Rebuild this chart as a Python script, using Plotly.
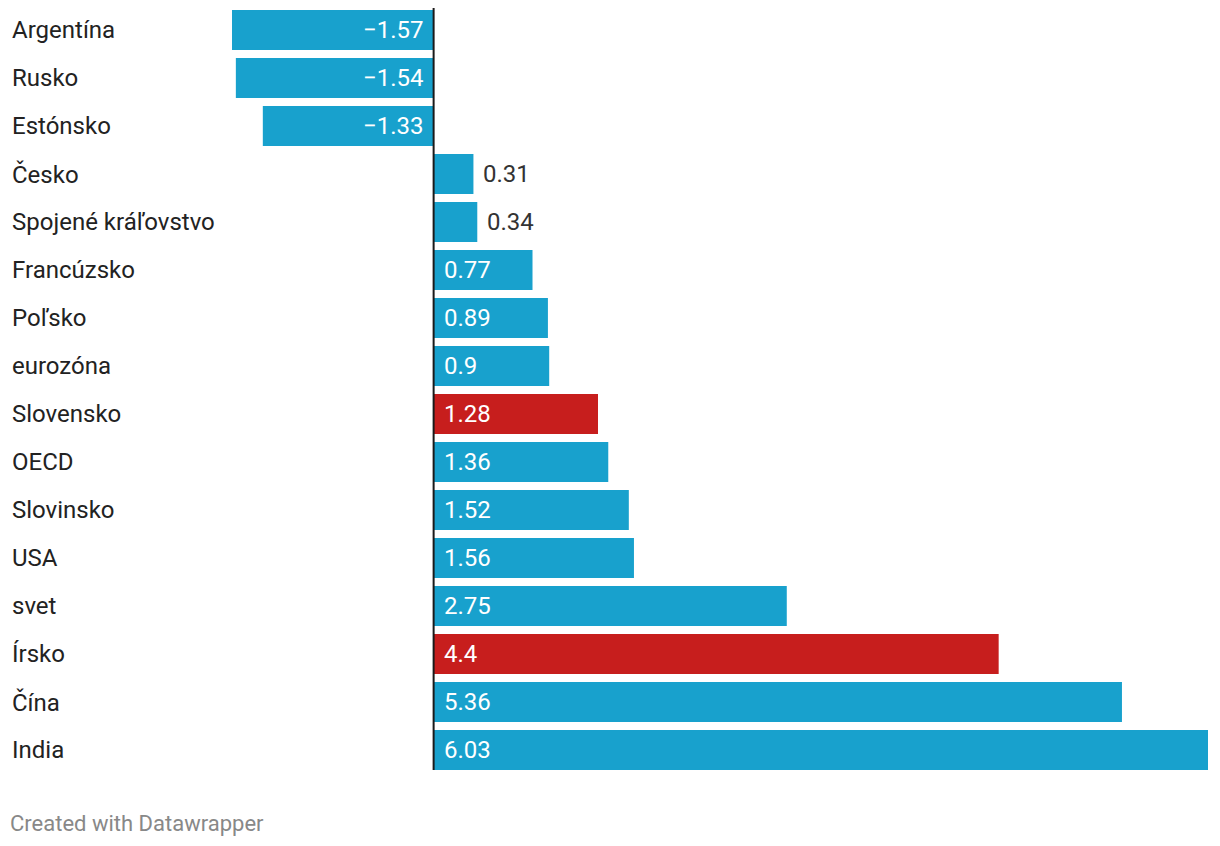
import plotly.graph_objects as go

categories = ["Argentína", "Rusko", "Estónsko", "Česko", "Spojené kráľovstvo",
              "Francúzsko", "Poľsko", "eurozóna", "Slovensko", "OECD", "Slovinsko",
              "USA", "svet", "Írsko", "Čína", "India"]
values = [-1.57, -1.54, -1.33, 0.31, 0.34, 0.77, 0.89, 0.9, 1.28, 1.36, 1.52,
          1.56, 2.75, 4.4, 5.36, 6.03]
highlight = ["Slovensko", "Írsko"]

BLUE = "#18a1cd"
RED = "#c71e1d"
W, H = 1204, 830          # page body adds an 8px offset
ROW = 48
GAP = 8
n = len(categories)
ML, MR, MT = 224, 4, 0
MB = H - MT - n * ROW
FONT = "Roboto"
FS = 24

colors = [RED if c in highlight else BLUE for c in categories]
texts = [(f"{v:g}").replace("-", "\u2212") for v in values]

fig = go.Figure(go.Bar(
    x=values, y=categories, orientation="h",
    marker=dict(color=colors, line=dict(width=0)),
    hoverinfo="skip",
))

plot_w = W - ML - MR
label_x = (2 - ML) / plot_w
for c in categories:
    fig.add_annotation(x=label_x, xref="paper", y=c, yref="y", text=c,
                       showarrow=False, xanchor="left", yanchor="middle",
                       font=dict(family=FONT, size=FS, color="#222222"))

for c, v, t in zip(categories, values, texts):
    if v < 0:
        fig.add_annotation(x=0, y=c, text=t, showarrow=False, xanchor="right",
                           xshift=-8, yanchor="middle",
                           font=dict(family=FONT, size=FS, color="white"))
    elif v < 0.5:
        fig.add_annotation(x=v, y=c, text=t, showarrow=False, xanchor="left",
                           xshift=8, yanchor="middle",
                           font=dict(family=FONT, size=FS, color="#333333"))
    else:
        fig.add_annotation(x=0, y=c, text=t, showarrow=False, xanchor="left",
                           xshift=8, yanchor="middle",
                           font=dict(family=FONT, size=FS, color="white"))

fig.add_annotation(x=(0 - ML) / plot_w, xref="paper", y=-(815 - (H - MB)) / (H - MT - MB),
                   yref="paper", text="Created with Datawrapper", showarrow=False,
                   xanchor="left", yanchor="middle",
                   font=dict(family=FONT, size=22, color="#888888"))

half_bar = (1 - GAP / ROW) / 2
fig.add_shape(type="line", xref="x", yref="y", x0=0, x1=0,
              y0=-half_bar - 2 / ROW, y1=n - 1 + half_bar,
              line=dict(color="#1a1a1a", width=2), layer="above")

shift = 2 / ROW
fig.update_layout(
    width=W, height=H, margin=dict(l=ML, r=MR, t=MT, b=MB, pad=0),
    plot_bgcolor="white", paper_bgcolor="white",
    bargap=GAP / ROW, showlegend=False,
    xaxis=dict(range=[min(values), max(values)], showgrid=False, showticklabels=False,
               zeroline=False, fixedrange=True),
    yaxis=dict(range=[n - 0.5 + shift, -0.5 + shift], showticklabels=False,
               showgrid=False, zeroline=False, fixedrange=True),
)

fig.write_html("out.html")
